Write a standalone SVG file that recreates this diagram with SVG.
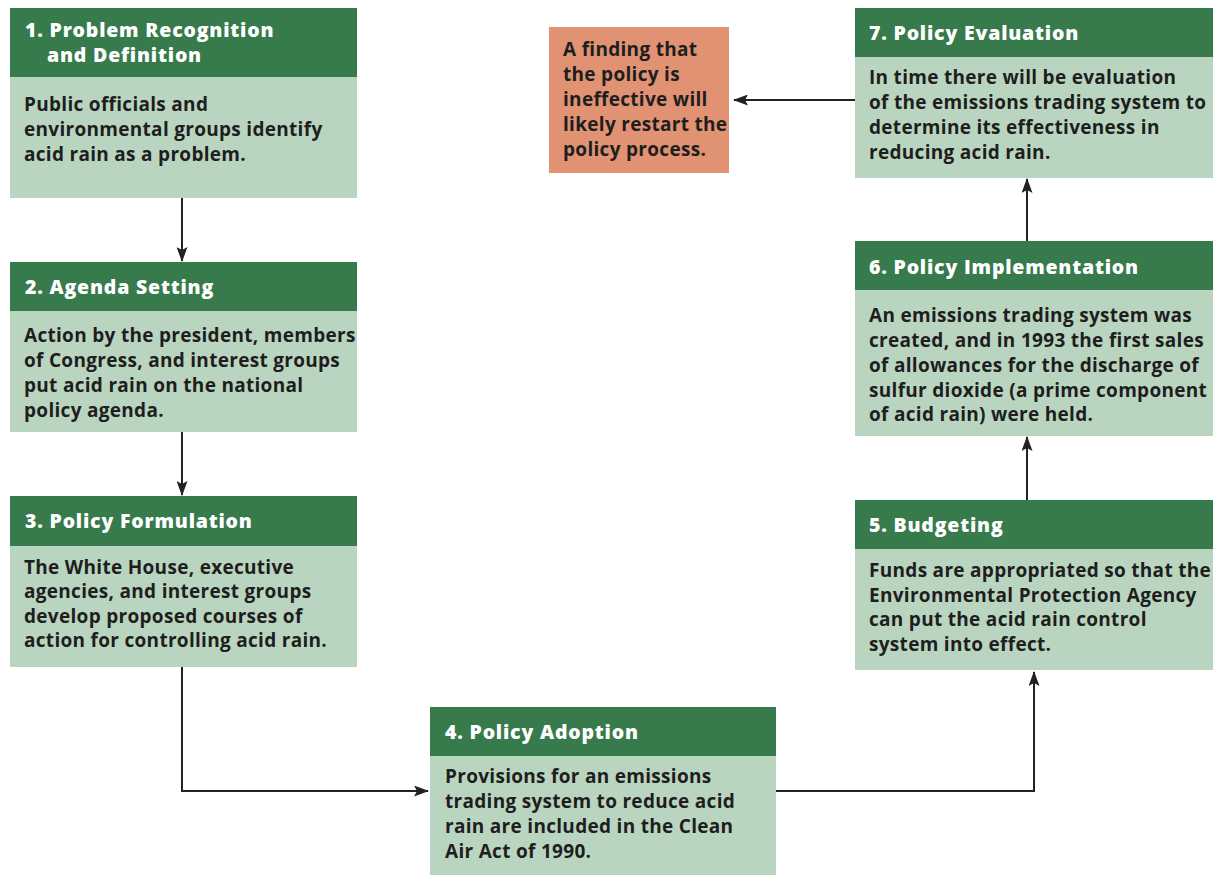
<svg xmlns="http://www.w3.org/2000/svg" width="1213" height="875" viewBox="0 0 1213 875">
<style>
.hd{fill:#377a4c}
.bd{fill:#b9d5bf}
.or{fill:#e09272}
.ht{font-family:"Open Sans","Liberation Sans",sans-serif;font-weight:800;font-size:19.5px;letter-spacing:0.8px;fill:#ffffff}
.bt{font-family:"Open Sans","Liberation Sans",sans-serif;font-weight:700;font-size:19px;letter-spacing:0.3px;fill:#1e1e1e}
.cn{fill:none;stroke:#222;stroke-width:2}
</style>
<defs>
<marker id="ah" viewBox="0 0 15 11" refX="14" refY="5.5" markerWidth="15" markerHeight="11" markerUnits="userSpaceOnUse" orient="auto">
<path d="M0,0 L15,5.5 L0,11 L3,5.5 Z" fill="#222"/>
</marker>
</defs>
<rect width="1213" height="875" fill="#ffffff"/>
<g id="connectors">
<path class="cn" d="M182,198 V261" marker-end="url(#ah)"/>
<path class="cn" d="M182,432 V495" marker-end="url(#ah)"/>
<path class="cn" d="M182,667 V791 H428" marker-end="url(#ah)"/>
<path class="cn" d="M776,791 H1034 V672" marker-end="url(#ah)"/>
<path class="cn" d="M1027,500 V437" marker-end="url(#ah)"/>
<path class="cn" d="M1027,241 V179" marker-end="url(#ah)"/>
<path class="cn" d="M855,100 H734" marker-end="url(#ah)"/>
</g>
<g id="node1">
<rect class="hd" x="10" y="8" width="347" height="69"/>
<rect class="bd" x="10" y="77" width="347" height="121"/>
<text class="ht" x="25" y="37">1. Problem Recognition</text>
<text class="ht" x="47" y="62">and Definition</text>
<text class="bt" x="24" y="111">Public officials and</text>
<text class="bt" x="24" y="136">environmental groups identify</text>
<text class="bt" x="24" y="161">acid rain as a problem.</text>
</g>
<g id="node2">
<rect class="hd" x="10" y="262" width="347" height="49"/>
<rect class="bd" x="10" y="311" width="347" height="121"/>
<text class="ht" x="25" y="294">2. Agenda Setting</text>
<text class="bt" x="24" y="342">Action by the president, members</text>
<text class="bt" x="24" y="367">of Congress, and interest groups</text>
<text class="bt" x="24" y="392">put acid rain on the national</text>
<text class="bt" x="24" y="417">policy agenda.</text>
</g>
<g id="node3">
<rect class="hd" x="10" y="496" width="347" height="50"/>
<rect class="bd" x="10" y="546" width="347" height="121"/>
<text class="ht" x="25" y="528">3. Policy Formulation</text>
<text class="bt" x="24" y="574">The White House, executive</text>
<text class="bt" x="24" y="598">agencies, and interest groups</text>
<text class="bt" x="24" y="623">develop proposed courses of</text>
<text class="bt" x="24" y="647">action for controlling acid rain.</text>
</g>
<g id="node4">
<rect class="hd" x="430" y="707" width="346" height="49"/>
<rect class="bd" x="430" y="756" width="346" height="119"/>
<text class="ht" x="445" y="739">4. Policy Adoption</text>
<text class="bt" x="445" y="783">Provisions for an emissions</text>
<text class="bt" x="445" y="808">trading system to reduce acid</text>
<text class="bt" x="445" y="833">rain are included in the Clean</text>
<text class="bt" x="445" y="858">Air Act of 1990.</text>
</g>
<g id="node5">
<rect class="hd" x="855" y="500" width="358" height="49"/>
<rect class="bd" x="855" y="549" width="358" height="121"/>
<text class="ht" x="869" y="532">5. Budgeting</text>
<text class="bt" x="869" y="577">Funds are appropriated so that the</text>
<text class="bt" x="869" y="602">Environmental Protection Agency</text>
<text class="bt" x="869" y="626">can put the acid rain control</text>
<text class="bt" x="869" y="651">system into effect.</text>
</g>
<g id="node6">
<rect class="hd" x="855" y="241" width="358" height="49"/>
<rect class="bd" x="855" y="290" width="358" height="146"/>
<text class="ht" x="869" y="274">6. Policy Implementation</text>
<text class="bt" x="869" y="322">An emissions trading system was</text>
<text class="bt" x="869" y="347">created, and in 1993 the first sales</text>
<text class="bt" x="869" y="372">of allowances for the discharge of</text>
<text class="bt" x="869" y="397">sulfur dioxide (a prime component</text>
<text class="bt" x="869" y="421">of acid rain) were held.</text>
</g>
<g id="node7">
<rect class="hd" x="855" y="8" width="358" height="49"/>
<rect class="bd" x="855" y="57" width="358" height="121"/>
<text class="ht" x="869" y="40">7. Policy Evaluation</text>
<text class="bt" x="869" y="84">In time there will be evaluation</text>
<text class="bt" x="869" y="109">of the emissions trading system to</text>
<text class="bt" x="869" y="134">determine its effectiveness in</text>
<text class="bt" x="869" y="159">reducing acid rain.</text>
</g>
<g id="note">
<rect class="or" x="549" y="27" width="180" height="146"/>
<text class="bt" x="563" y="56">A finding that</text>
<text class="bt" x="563" y="81">the policy is</text>
<text class="bt" x="563" y="106">ineffective will</text>
<text class="bt" x="563" y="131">likely restart the</text>
<text class="bt" x="563" y="156">policy process.</text>
</g>
</svg>
